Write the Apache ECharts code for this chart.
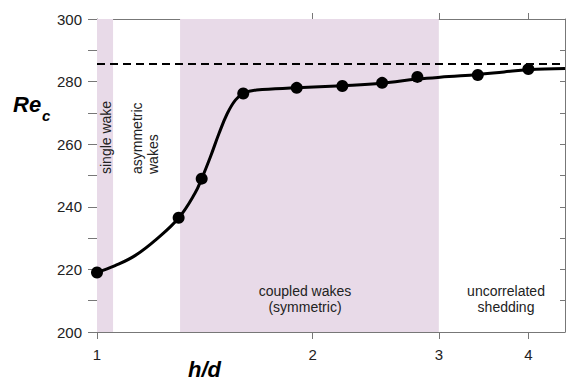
<!DOCTYPE html>
<html>
<head>
<meta charset="utf-8">
<script src="https://cdn.jsdelivr.net/npm/echarts@6/dist/echarts.min.js"></script>
<style>
  html, body { margin: 0; padding: 0; background: #fff; }
  #chart { width: 566px; height: 380px; }
</style>
</head>
<body>
<div id="chart"></div>
<script>
// measured points (h/d, Re_c)
const pointX = [1.0, 1.3, 1.4, 1.6, 1.9, 2.2, 2.5, 2.8, 3.4, 4.0];
const pointY = [219.0, 236.5, 249.0, 276.2, 278.0, 278.6, 279.6, 281.5, 282.1, 284.0];

// fitted curve
const curveX = [1.0, 1.06, 1.13, 1.21, 1.3, 1.37, 1.4, 1.44, 1.48, 1.52, 1.56, 1.6, 1.67, 1.9, 2.2, 2.5, 2.8, 3.1, 3.4, 3.7, 4.0, 4.5];
const curveY = [219.0, 221.2, 224.4, 229.6, 236.4, 244.3, 249.0, 256.0, 263.4, 269.8, 274.1, 276.2, 277.3, 278.0, 278.7, 279.5, 280.8, 281.6, 282.3, 283.1, 283.8, 284.2];

const limitRe = 285.8;
const xTicks = [1, 2, 3, 4];

// regime bands [from, to] on h/d
const bandSingle = [1.0, 1.053];
const bandCoupled = [1.306, 3.0];

const font = 'Liberation Sans, Arial, Helvetica, sans-serif';
const axisGrey = '#777';
const bandColor = '#e8dae8';

const zip = (xs, ys) => xs.map((x, i) => [x, ys[i]]);

const chart = echarts.init(document.getElementById('chart'), null, { renderer: 'svg' });

chart.setOption({
  animation: false,
  grid: { left: 97, right: 1, top: 19, bottom: 48, outerBoundsMode: 'none' },
  xAxis: [{
    type: 'log', logBase: 10, min: 1, max: 4.5,
    axisLine: { lineStyle: { color: axisGrey, width: 1 } },
    axisTick: { show: true, length: 7, customValues: xTicks, lineStyle: { color: axisGrey } },
    axisLabel: { customValues: xTicks, margin: 15, fontSize: 15, color: '#222', fontFamily: font },
    splitLine: { show: false }
  }, {
    type: 'log', logBase: 10, min: 1, max: 4.5, position: 'top',
    axisLine: { lineStyle: { color: axisGrey, width: 1 } },
    axisTick: { show: true, length: 6, customValues: [2, 3, 4], lineStyle: { color: axisGrey } },
    axisLabel: { show: false },
    splitLine: { show: false }
  }],
  yAxis: [{
    type: 'value', min: 200, max: 300, interval: 10,
    axisLine: { show: true, lineStyle: { color: axisGrey, width: 1 } },
    axisTick: { show: true, length: 9, lineStyle: { color: axisGrey } },
    axisLabel: {
      margin: 15, fontSize: 15, color: '#222', fontFamily: font,
      formatter: v => (v % 20 === 0 ? String(v) : '')
    },
    splitLine: { show: false }
  }, {
    type: 'value', min: 200, max: 300, interval: 10, position: 'right',
    axisLine: { show: true, lineStyle: { color: axisGrey, width: 1 } },
    axisTick: { show: true, inside: true, length: 5, lineStyle: { color: axisGrey } },
    axisLabel: { show: false },
    splitLine: { show: false }
  }],
  series: [{
    name: 'fit',
    type: 'line',
    data: zip(curveX, curveY),
    smooth: 0.4,
    showSymbol: false,
    lineStyle: { color: '#000', width: 3 },
    z: 3,
    markArea: {
      silent: true,
      itemStyle: { color: bandColor, opacity: 1 },
      data: [
        [{ xAxis: bandSingle[0] }, { xAxis: bandSingle[1] }],
        [{ xAxis: bandCoupled[0] }, { xAxis: bandCoupled[1] }]
      ]
    },
    markLine: {
      silent: true,
      symbol: 'none',
      label: { show: false },
      lineStyle: { color: '#000', type: [8, 5], width: 2 },
      data: [{ yAxis: limitRe }]
    }
  }, {
    name: 'points',
    type: 'scatter',
    data: zip(pointX, pointY),
    symbol: 'circle',
    symbolSize: 12,
    itemStyle: { color: '#000', opacity: 1 },
    z: 4
  }],
  graphic: [
    { type: 'text', x: 13, y: 104, z: 100, style: { text: 'Re', font: 'italic bold 22px ' + font, fill: '#000', verticalAlign: 'middle' } },
    { type: 'text', x: 42, y: 115, z: 100, style: { text: 'c', font: 'italic bold 15px ' + font, fill: '#000', verticalAlign: 'middle' } },
    { type: 'text', x: 188, y: 369, z: 100, style: { text: 'h/d', font: 'italic bold 22px ' + font, fill: '#000', verticalAlign: 'middle' } },
    { type: 'text', x: 106, y: 174, z: 100, rotation: Math.PI / 2,
      style: { text: 'single wake', font: '14px ' + font, fill: '#222', align: 'left', verticalAlign: 'middle' } },
    { type: 'text', x: 145, y: 174, z: 100, rotation: Math.PI / 2,
      style: { text: 'asymmetric\nwakes', font: '14px ' + font, lineHeight: 16, fill: '#222', align: 'left', verticalAlign: 'middle' } },
    { type: 'text', x: 305, y: 299, z: 100,
      style: { text: 'coupled wakes\n(symmetric)', font: '14px ' + font, lineHeight: 16.5, fill: '#222', align: 'center', verticalAlign: 'middle' } },
    { type: 'text', x: 506, y: 299, z: 100,
      style: { text: 'uncorrelated\nshedding', font: '14px ' + font, lineHeight: 16.5, fill: '#222', align: 'center', verticalAlign: 'middle' } }
  ]
});
</script>
</body>
</html>
